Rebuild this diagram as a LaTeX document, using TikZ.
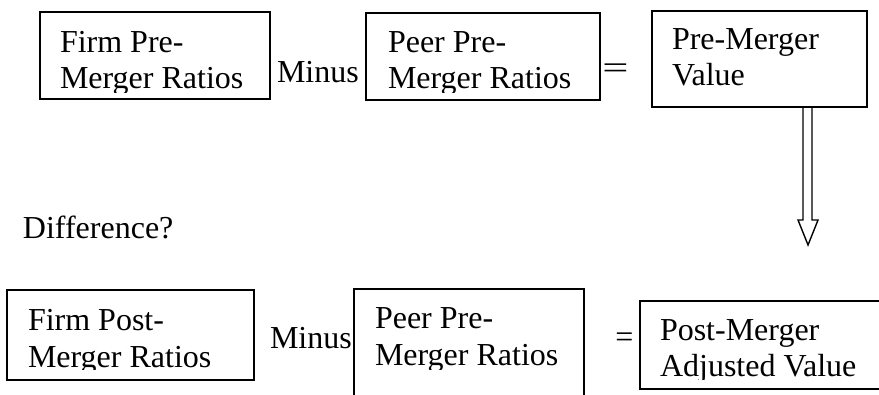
\documentclass[tikz,border=0pt]{standalone}
\usepackage{fontspec}
\setmainfont{Liberation Serif}
\usetikzlibrary{calc}
\begin{document}
\begin{tikzpicture}[x=1pt,y=-1pt,
  box/.style={draw, line width=1.6pt, inner sep=0pt, outer sep=0pt, rectangle},
  txt/.style={anchor=base west, inner sep=0pt, outer sep=0pt, font=\fontsize{32}{36}\selectfont},
  arrowline/.style={draw, line width=1.4pt, line join=miter}]
\clip (0,0) rectangle (879,394);
\fill[white] (0,0) rectangle (879,394);
% boxes
\node[box, minimum width=230pt, minimum height=87pt] (b1) at (155,55.5) {};
\node[box, minimum width=234pt, minimum height=87pt] (b2) at (483,56.5) {};
\node[box, minimum width=215pt, minimum height=96pt] (b3) at (759.5,59) {};
\node[box, minimum width=247pt, minimum height=90pt] (b4) at (130.5,335) {};
\node[box, minimum width=230pt, minimum height=141pt] (b5) at (469,359.5) {};
\node[box, minimum width=340pt, minimum height=88pt] (b6) at (810,345) {};
% box texts (clipped like text boxes)
\begin{scope}
\clip (40,12) rectangle (270,92);
\node[txt] (t1a) at (60,52) {Firm Pre-};
\node[txt] (t1b) at (60,88) {Merger Ratios};
\end{scope}
\begin{scope}
\clip (366,13) rectangle (600,92);
\node[txt] (t2a) at (388,52) {Peer Pre-};
\node[txt] (t2b) at (388,88) {Merger Ratios};
\end{scope}
\node[txt] (t3a) at (672,49) {Pre-Merger};
\node[txt] (t3b) at (672,85) {Value};
\begin{scope}
\clip (7,290) rectangle (254,369);
\node[txt] (t4a) at (28,330) {Firm Post-};
\node[txt] (t4b) at (28,367) {Merger Ratios};
\end{scope}
\begin{scope}
\clip (354,289) rectangle (584,369);
\node[txt] (t5a) at (375,328) {Peer Pre-};
\node[txt] (t5b) at (375,365) {Merger Ratios};
\end{scope}
\begin{scope}
\clip (640,301) rectangle (879,379);
\node[txt] (t6a) at (660,340) {Post-Merger};
\node[txt] (t6b) at (660,376) {Adjusted Value};
\end{scope}
% operators
\node[txt] (m1) at (277,82) {Minus};
\node[txt] (m2) at (270,348) {Minus};
\node[txt, anchor=base] (e1) at (615.5,78) {\scalebox{1.45}[1]{=}};
\node[txt, anchor=base] (e2) at (624.5,347) {=};
\node[txt] (diff) at (23,238) {Difference?};
% hollow double arrow
\coordinate (tip) at (808,245);
\draw[arrowline] ($(b3.south)+(43.5,0)$) -- ($(tip)+(-5,-25)$) -- ($(tip)+(-10,-25)$) -- (tip)
  -- ($(tip)+(10,-25)$) -- ($(tip)+(4,-25)$) -- ($(b3.south)+(52.5,0)$);
\end{tikzpicture}
\end{document}
